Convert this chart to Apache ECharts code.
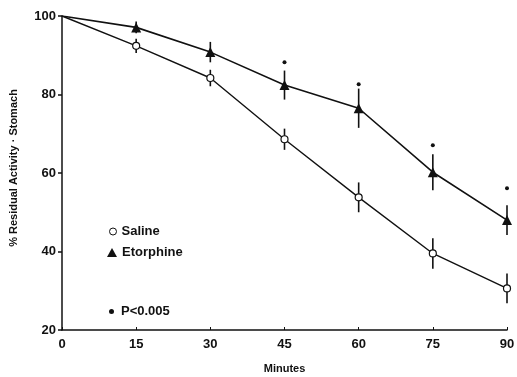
<!DOCTYPE html>
<html>
<head>
<meta charset="utf-8">
<script src="https://cdn.jsdelivr.net/npm/echarts@6/dist/echarts.min.js"></script>
<style>
html, body {margin: 0; padding: 0; background: #fff;}
#main {width: 517px; height: 377px;}
</style>
</head>
<body>
<div id="main"></div>
<script>
const minutes = [0, 15, 30, 45, 60, 75, 90];
const saline = [100, 92.4, 84.2, 68.6, 53.8, 39.5, 30.6];
const salineErr = [0, 1.8, 2.1, 2.7, 3.8, 3.9, 3.8];
const etorphine = [100, 97.1, 90.8, 82.4, 76.5, 60.2, 48.0];
const etorphineErr = [0, 1.5, 2.6, 3.7, 5.0, 4.6, 3.8];
const starMinutes = [45, 60, 75, 90];
const starValues = [88.2, 82.6, 67.1, 56.1];
const yTicks = [20, 40, 60, 80, 100];

const font = '"Liberation Sans", Arial, sans-serif';
const ink = '#111';
const legendText = {fontFamily: font, fontWeight: 'bold', fontSize: 13, color: ink};

// the shared start point at 0 min has no marker
function pairs(xs, ys) {
	return xs.map((x, i) => x === 0 ? {value: [x, ys[i]], symbol: 'none'} : [x, ys[i]]);
}
function errData(ys, err) {
	return minutes.map((x, i) => [x, ys[i] - err[i], ys[i] + err[i]]).filter((d, i) => err[i] > 0);
}
function errorBars(name, ys, err) {
	return {
		name: name + ' SE',
		type: 'custom',
		data: errData(ys, err),
		encode: {x: 0, y: [1, 2]},
		z: 1,
		renderItem(params, api) {
			const a = api.coord([api.value(0), api.value(1)]);
			const b = api.coord([api.value(0), api.value(2)]);
			return {
				type: 'line',
				shape: {x1: a[0], y1: a[1], x2: b[0], y2: b[1]},
				style: {stroke: ink, lineWidth: 1.6}
			};
		}
	};
}

const chart = echarts.init(document.getElementById('main'));
chart.setOption({
	animation: false,
	backgroundColor: '#fff',
	grid: {left: 62, right: 10, top: 16, bottom: 47, containLabel: false, outerBoundsMode: 'none'},
	xAxis: {
		type: 'value', min: 0, max: 90, interval: 15,
		name: 'Minutes', nameLocation: 'middle', nameGap: 33,
		nameTextStyle: {fontFamily: font, fontWeight: 'bold', fontSize: 11, color: ink},
		axisLine: {lineStyle: {color: ink, width: 1.5}},
		axisTick: {inside: true, length: 3, lineStyle: {color: ink}},
		axisLabel: {fontFamily: font, fontWeight: 'bold', fontSize: 13, color: ink, margin: 8},
		splitLine: {show: false}
	},
	yAxis: {
		type: 'value', min: 20, max: 100, interval: 20,
		name: '% Residual Activity · Stomach', nameLocation: 'middle', nameGap: 43, nameRotate: 90,
		nameTextStyle: {fontFamily: font, fontWeight: 'bold', fontSize: 11, color: ink, padding: [0, 0, 0, 10]},
		axisLine: {show: true, lineStyle: {color: ink, width: 1.5}},
		axisTick: {show: true, length: 4, lineStyle: {color: ink, width: 1.5}},
		axisLabel: {fontFamily: font, fontWeight: 'bold', fontSize: 13, color: ink, margin: 6,
			formatter: v => yTicks.includes(v) ? String(v) : ''},
		splitLine: {show: false}
	},
	legend: [
		{
			left: 104, top: 220, itemWidth: 7, itemHeight: 7, textStyle: legendText,
			data: [{name: 'Saline', icon: 'circle', itemStyle: {color: '#fff', borderColor: ink, borderWidth: 1}}]
		},
		{
			left: 102, top: 241, itemWidth: 10, itemHeight: 9, itemGap: 4, textStyle: legendText,
			data: [{name: 'Etorphine', icon: 'triangle', itemStyle: {color: ink}}]
		},
		{
			left: 104, top: 300, itemWidth: 5, itemHeight: 5,
			textStyle: Object.assign({}, legendText, {padding: [0, 0, 0, 2]}),
			data: [{name: 'P<0.005', icon: 'circle', itemStyle: {color: ink}}]
		}
	],
	series: [
		errorBars('Saline', saline, salineErr),
		errorBars('Etorphine', etorphine, etorphineErr),
		{
			name: 'Saline', type: 'line', data: pairs(minutes, saline), z: 3,
			symbol: 'circle', symbolSize: 7, showSymbol: true,
			lineStyle: {color: ink, width: 1.4},
			itemStyle: {color: '#fff', borderColor: ink, borderWidth: 1.2}
		},
		{
			name: 'Etorphine', type: 'line', data: pairs(minutes, etorphine), z: 3,
			symbol: 'triangle', symbolSize: 10, showSymbol: true,
			lineStyle: {color: ink, width: 1.6},
			itemStyle: {color: ink}
		},
		{
			name: 'P<0.005', type: 'scatter', data: pairs(starMinutes, starValues),
			symbol: 'circle', symbolSize: 4, itemStyle: {color: ink, opacity: 1}
		}
	]
});
</script>
</body>
</html>
